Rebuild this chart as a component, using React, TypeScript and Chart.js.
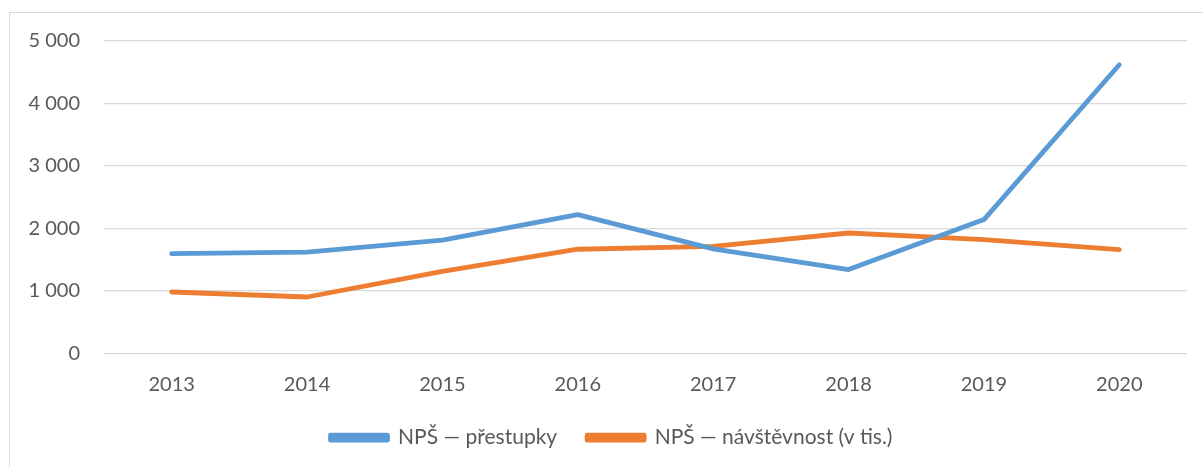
import React, { useEffect, useRef } from 'react';
import { Chart, registerables } from 'chart.js';

Chart.register(...registerables);

const years = ['2013', '2014', '2015', '2016', '2017', '2018', '2019', '2020'];
const prestupky = [1595, 1620, 1810, 2220, 1670, 1340, 2140, 4620];
const navstevnost = [980, 900, 1310, 1665, 1710, 1925, 1820, 1660];
const seriesNames = ['NPŠ — přestupky', 'NPŠ — návštěvnost (v tis.)'];
const yMin = 0;
const yMax = 5000;
const yStep = 1000;

const FONT = 'Lato, "Open Sans", sans-serif';
const TEXT = '#595959';
const GRID = '#d9d9d9';
const FS = 20;
const LFS = 21;

const fmt = (v: number) => String(v).replace(/\B(?=(\d{3})+(?!\d))/g, ' ');

const legendShift = {
  id: 'legendShift',
  afterLayout(chart: any) {
    const l = chart.legend;
    if (l) {
      l.left += 18;
      l.right += 18;
    }
  },
};

export default function App() {
  const ref = useRef<HTMLCanvasElement | null>(null);

  useEffect(() => {
    if (!ref.current) return;
    const chart = new Chart(ref.current, {
      type: 'line',
      data: {
        labels: years,
        datasets: [
          {
            label: seriesNames[0],
            data: prestupky,
            borderColor: '#5B9BD5',
            backgroundColor: '#5B9BD5',
            borderWidth: 4.8,
            borderCapStyle: 'round',
            borderJoinStyle: 'round',
            pointRadius: 0,
            tension: 0,
          },
          {
            label: seriesNames[1],
            data: navstevnost,
            borderColor: '#ED7D31',
            backgroundColor: '#ED7D31',
            borderWidth: 4.8,
            borderCapStyle: 'round',
            borderJoinStyle: 'round',
            pointRadius: 0,
            tension: 0,
          },
        ],
      },
      plugins: [legendShift],
      options: {
        animation: false,
        responsive: false,
        maintainAspectRatio: false,
        layout: { padding: { left: 0, top: 41, right: 16, bottom: 8.8 } },
        plugins: {
          legend: {
            position: 'bottom',
            labels: {
              boxWidth: 57,
              boxHeight: 5,
              padding: 30,
              color: TEXT,
              font: { family: FONT, size: LFS },
            },
          },
          tooltip: { enabled: false },
        },
        scales: {
          x: {
            offset: true,
            grid: { display: false, drawTicks: false },
            border: { display: false },
            ticks: { color: TEXT, font: { family: FONT, size: FS }, padding: 19, maxRotation: 0 },
            afterFit: (s: any) => { s.height = 44; },
          },
          y: {
            min: yMin,
            max: yMax,
            grid: { color: GRID, lineWidth: 1.3, drawTicks: false },
            border: { display: false },
            ticks: {
              stepSize: yStep,
              color: TEXT,
              padding: 24,
              font: { family: FONT, size: FS },
              callback: (v: any) => fmt(Number(v)),
            },
            afterFit: (s: any) => { s.width = 104; },
          },
        },
      },
    });
    return () => chart.destroy();
  }, []);

  return (
    <div style={{ position: 'absolute', left: 0, top: 0, width: 1203, height: 467, background: '#fff', overflow: 'hidden' }}>
      <div style={{ position: 'absolute', left: 9, top: 12, right: -10, bottom: -10, border: '1.5px solid #d9d9d9' }} />
      <canvas ref={ref} width={1203} height={467} style={{ position: 'absolute', left: 0, top: 0 }} />
    </div>
  );
}
